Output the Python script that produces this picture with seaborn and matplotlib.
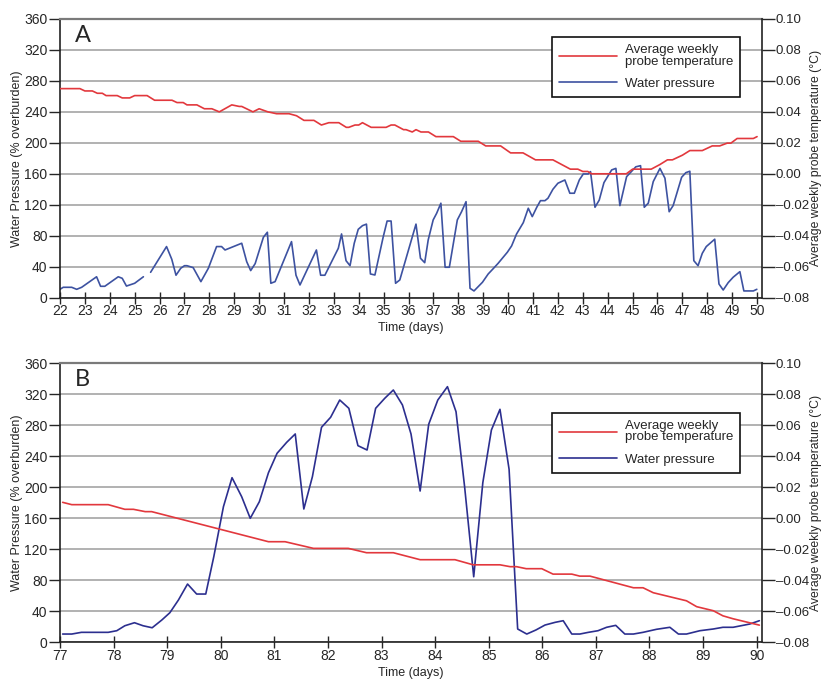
import matplotlib
matplotlib.use("Agg")
import matplotlib.pyplot as plt
import seaborn as sns
import pandas as pd
import numpy as np

# ---- panel A data ----
a_temp_day = [22.0, 22.8, 23.0, 23.3, 23.5, 23.7, 23.85, 24.3, 24.5, 24.8, 25.0, 25.5,
              25.8, 26.5, 26.7, 26.95, 27.1, 27.5, 27.8, 28.1, 28.4, 28.9, 29.2, 29.3,
              29.75, 30.0, 30.35, 30.7, 31.2, 31.5, 31.8, 32.2, 32.5, 32.8, 33.2, 33.5,
              33.6, 33.85, 34.0, 34.15, 34.5, 35.1, 35.3, 35.45, 35.8, 35.9, 36.15, 36.3,
              36.5, 36.8, 37.1, 37.8, 38.1, 38.8, 39.1, 39.7, 40.1, 40.6, 41.1, 41.8,
              42.15, 42.5, 42.8, 43.0, 43.2, 43.35, 44.75, 45.0, 45.75, 46.1, 46.4, 46.6,
              47.0, 47.3, 47.8, 48.2, 48.5, 48.8, 48.95, 49.2, 49.85, 50.0]
a_temp = [0.055, 0.055, 0.0535, 0.0535, 0.052, 0.052, 0.0505, 0.0505, 0.049, 0.049, 0.0505, 0.0505,
          0.0475, 0.0475, 0.046, 0.046, 0.0445, 0.0445, 0.042, 0.042, 0.040, 0.0445, 0.0435, 0.0435,
          0.040, 0.042, 0.040, 0.0388, 0.0388, 0.0375, 0.0345, 0.0345, 0.0315, 0.033, 0.033, 0.030,
          0.030, 0.0315, 0.0315, 0.033, 0.030, 0.030, 0.0315, 0.0315, 0.0285, 0.0285, 0.027, 0.0285,
          0.027, 0.027, 0.024, 0.024, 0.021, 0.021, 0.018, 0.018, 0.0135, 0.0135, 0.009, 0.009,
          0.006, 0.003, 0.003, 0.0015, 0.0015, 0.0, 0.0, 0.003, 0.003, 0.006, 0.009, 0.009,
          0.012, 0.015, 0.015, 0.018, 0.018, 0.0198, 0.0198, 0.0228, 0.0228, 0.024]

a_wp1_day = [22.0, 22.13, 22.47, 22.67, 22.87, 23.47, 23.63, 23.8, 24.34, 24.5, 24.67, 25.0, 25.35]
a_wp1 = [10.8, 13.4, 13.4, 10.8, 13.4, 27, 14.7, 14.7, 27, 25, 15, 18.6, 27]

a_wp2_day = [25.64, 26.28, 26.49, 26.66, 26.85, 27.0, 27.1, 27.35, 27.66, 27.96, 28.29, 28.49,
             28.63, 29.3, 29.5, 29.66, 29.84, 30.17, 30.33, 30.47, 30.64, 31.3, 31.48, 31.64,
             32.3, 32.47, 32.64, 33.18, 33.31, 33.49, 33.65, 33.82, 33.98, 34.15, 34.31, 34.47,
             34.65, 34.98, 35.14, 35.3, 35.48, 35.65, 36.3, 36.48, 36.65, 36.79, 36.99, 37.13,
             37.3, 37.47, 37.64, 37.96, 38.13, 38.31, 38.47, 38.63, 38.97, 39.2, 39.4, 39.6,
             39.97, 40.14, 40.34, 40.61, 40.81, 40.97, 41.15, 41.3, 41.48, 41.6, 41.8, 42.0,
             42.28, 42.48, 42.66, 42.86, 43.02, 43.22, 43.31, 43.49, 43.66, 43.85, 44.16, 44.33,
             44.49, 44.76, 45.13, 45.32, 45.47, 45.63, 45.83, 46.1, 46.3, 46.47, 46.63, 46.97,
             47.14, 47.3, 47.46, 47.63, 47.8, 47.96, 48.3, 48.47, 48.64, 48.84, 49.04, 49.31,
             49.47, 49.85, 49.99]
a_wp2 = [32.8, 66, 49.6, 29, 38, 41.3, 41.3, 38.8, 20.7, 38, 66, 66,
         61.6, 70.3, 46.5, 35, 44, 78, 84.5, 18.6, 20.7, 72.4, 29, 16.4,
         61.6, 29, 29, 63.8, 82.3, 47.8, 41.3, 70.3, 88.3, 93, 95, 30.6,
         29.3, 78, 99, 99, 18.6, 22.9, 95, 50.9, 45.2, 74.5, 100.4, 109,
         122, 39.3, 39.3, 100.4, 111, 124, 12.1, 8.7, 19.9, 30.6, 37.4, 44.4,
         58.7, 66.8, 82.3, 96.9, 115.5, 104.7, 116.7, 125.3, 125.3, 128.4, 140, 147.8,
         152, 134.9, 134.9, 152, 159.8, 159.8, 162.8, 116.8, 126, 148.6, 165, 167,
         118.9, 156.3, 169, 170.5, 116.8, 122, 149.9, 167, 154.3, 111, 119, 155.5,
         161.5, 163.3, 47.8, 41.3, 57.3, 66, 75.5, 17.7, 9.9, 19.4, 26.4, 33.6,
         8.7, 8.7, 10.8]

# ---- panel B data ----
b_temp_day = [77.05, 77.22, 77.9, 78.21, 78.37, 78.59, 78.71, 80.89, 81.2, 81.73, 82.38,
              82.72, 83.22, 83.72, 84.37, 84.71, 85.21, 85.4, 85.52, 85.7, 85.99, 86.2,
              86.55, 86.7, 86.89, 87.7, 87.88, 88.07, 88.69, 88.88, 89.19, 89.37, 89.56, 90.05]
b_temp = [0.0103, 0.0088, 0.0088, 0.0058, 0.0058, 0.0043, 0.0043, -0.0151, -0.0151, -0.0194, -0.0194,
          -0.0222, -0.0222, -0.0267, -0.0267, -0.030, -0.030, -0.0312, -0.0312, -0.0325, -0.0325, -0.036,
          -0.036, -0.0373, -0.0373, -0.0448, -0.0448, -0.048, -0.0532, -0.057, -0.0596, -0.0629, -0.0648, -0.0689]

b_wp_day = [77.05, 77.22, 77.4, 77.9, 78.06, 78.21, 78.39, 78.55, 78.72, 78.9, 79.05, 79.21,
            79.38, 79.55, 79.72, 79.87, 80.05, 80.21, 80.39, 80.55, 80.72, 80.89, 81.05, 81.23,
            81.39, 81.55, 81.71, 81.88, 82.05, 82.22, 82.39, 82.56, 82.73, 82.89, 83.06, 83.22,
            83.39, 83.55, 83.72, 83.88, 84.05, 84.23, 84.39, 84.55, 84.72, 84.89, 85.05, 85.21,
            85.38, 85.54, 85.71, 85.88, 86.05, 86.24, 86.39, 86.55, 86.7, 86.86, 87.04, 87.2,
            87.37, 87.54, 87.7, 87.88, 88.13, 88.38, 88.54, 88.69, 88.94, 89.19, 89.37, 89.56,
            89.87, 90.05]
b_wp = [10.7, 10.7, 12.9, 12.9, 15, 21.4, 25.3, 21.4, 18.8, 28.8, 38.2, 54.6,
        75.2, 62.3, 62.3, 110.5, 175, 212.4, 187.9, 160, 181.4, 218.8, 243.8, 258,
        268.8, 172, 213.7, 277.4, 290.3, 312.6, 301.9, 253.7, 248.1, 301.9, 314.8, 325.5,
        306.2, 268.8, 195.2, 281.3, 312.6, 329.8, 297.5, 200.8, 84.6, 206, 273.9, 300.6,
        223.2, 17.2, 10.7, 15.9, 22.3, 25.8, 27.9, 10.7, 10.7, 12.9, 15, 19.4,
        21.9, 10.7, 10.7, 12.9, 16.8, 19.4, 10.7, 10.7, 15, 17.2, 19.4, 19.4,
        23.6, 27.9]

wp_ticks = list(range(0, 361, 40))
temp_ticks = [-0.08, -0.06, -0.04, -0.02, 0.00, 0.02, 0.04, 0.06, 0.08, 0.10]

RED = '#e2383d'
sns.set_style('ticks')
plt.rcParams['font.family'] = ['Liberation Sans', 'DejaVu Sans']
plt.rcParams['font.size'] = 9

fig = plt.figure(figsize=(8.24, 6.79), dpi=100)
axA = fig.add_axes([0.0728, 0.5616, 0.852, 0.4105])
axB = fig.add_axes([0.0728, 0.0540, 0.852, 0.4110])


def draw_panel(ax, wp_df, temp_df, blue, xlim, xticks, letter, leg_y):
    sns.lineplot(data=wp_df, x='day', y='wp', units='seg', estimator=None,
                 color=blue, lw=1.2, ax=ax, legend=False)
    ax.set_ylim(0, 360)
    ax.set_yticks(wp_ticks)
    ax.set_xlim(*xlim)
    ax.set_xticks(xticks)
    ax.grid(axis='y', color='#9c9c9c', lw=1.1)
    ax.set_axisbelow(True)
    ax.set_xlabel('Time (days)', labelpad=3)
    ax.set_ylabel('Water Pressure (% overburden)', labelpad=1)
    ax.tick_params(axis='x', direction='inout', length=9, width=1, pad=0, labelsize=10)
    ax.tick_params(axis='y', direction='out', length=8, width=1, pad=1, labelsize=10)
    for s in ['left', 'bottom']:
        ax.spines[s].set_color('#222222')
        ax.spines[s].set_linewidth(1.2)
    ax.spines['top'].set_visible(True)
    ax.spines['top'].set_color('#7a7a7a')
    ax.spines['top'].set_linewidth(1.6)
    ax.spines['right'].set_visible(False)

    ax2 = ax.twinx()
    sns.lineplot(data=temp_df, x='day', y='temp', estimator=None,
                 color=RED, lw=1.2, ax=ax2, legend=False)
    ax2.set_ylim(-0.08, 0.10)
    ax2.set_yticks(temp_ticks)
    ax2.set_yticklabels([f'{t:.2f}'.replace('-', '\u2013') for t in temp_ticks])
    ax2.set_xlim(*xlim)
    ax2.set_ylabel('Average weekly probe temperature (\u00b0C)', rotation=90,
                   labelpad=1, fontsize=8.8)
    ax2.tick_params(axis='y', direction='out', length=9, width=1, pad=1, labelsize=9.5)
    ax2.spines['right'].set_color('#222222')
    ax2.spines['right'].set_linewidth(1.2)
    for s in ['left', 'bottom', 'top']:
        ax2.spines[s].set_visible(False)

    ax.text(0.021, 0.978, letter, transform=ax.transAxes, ha='left', va='top',
            fontsize=17, family=['Lato', 'DejaVu Sans'])

    handles = [ax2.lines[0], ax.lines[0]]
    leg = ax2.legend(handles, ['Average weekly\nprobe temperature', 'Water pressure'],
                     loc='upper left', bbox_to_anchor=(0.701, leg_y), fancybox=False,
                     framealpha=1, edgecolor='#111111', fontsize=9.5, handlelength=4.4,
                     handletextpad=0.55, labelspacing=0.75, borderpad=0.55,
                     borderaxespad=0)
    leg.get_frame().set_linewidth(1.2)
    for t in leg.get_texts():
        t.set_linespacing(0.95)


wpA = pd.concat([pd.DataFrame({'day': a_wp1_day, 'wp': a_wp1, 'seg': 1}),
                 pd.DataFrame({'day': a_wp2_day, 'wp': a_wp2, 'seg': 2})])
tempA = pd.DataFrame({'day': a_temp_day, 'temp': a_temp})
draw_panel(axA, wpA, tempA, '#3d52a1', (22, 50.2), range(22, 51), 'A', 0.935)

wpB = pd.DataFrame({'day': b_wp_day, 'wp': b_wp, 'seg': 1})
tempB = pd.DataFrame({'day': b_temp_day, 'temp': b_temp})
draw_panel(axB, wpB, tempB, '#2c2f8f', (77, 90.1), range(77, 91), 'B', 0.823)

fig.savefig('out.png', dpi=100)
